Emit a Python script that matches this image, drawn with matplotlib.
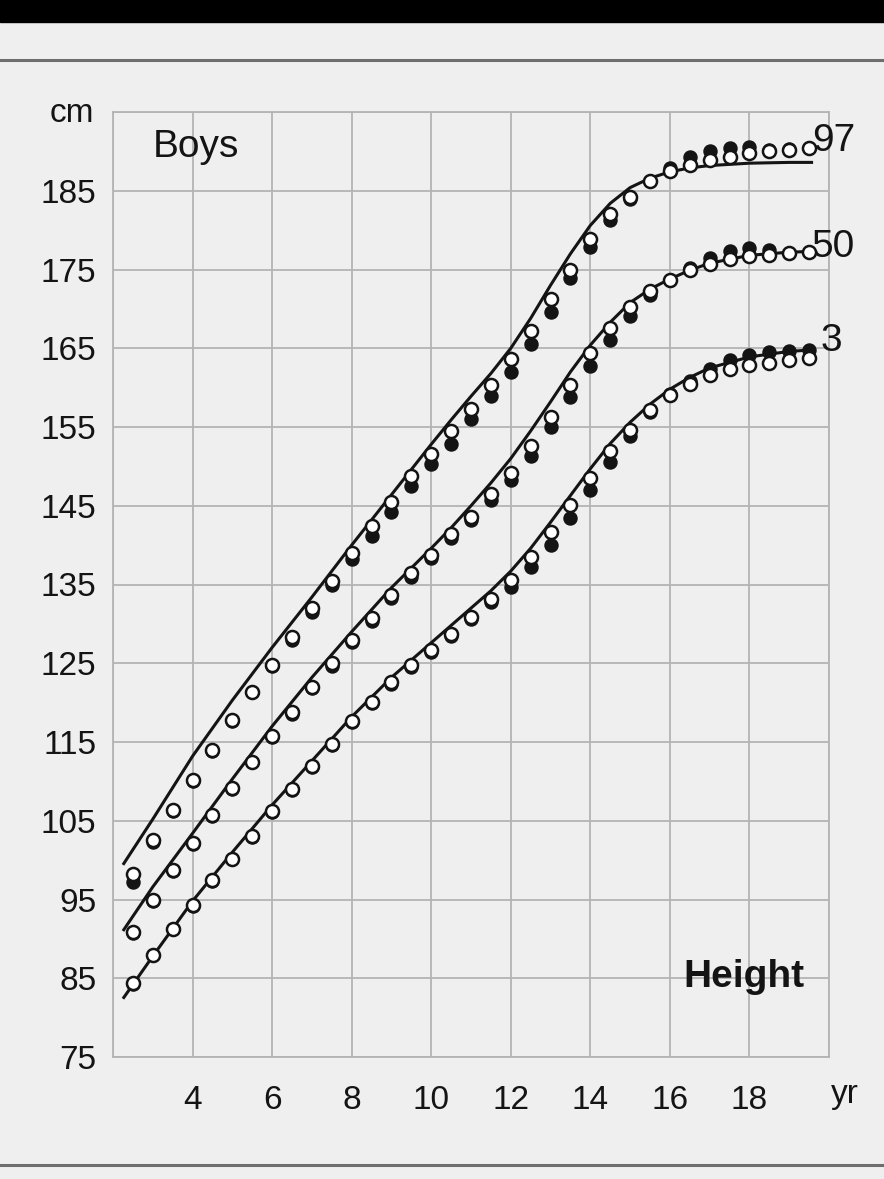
import matplotlib
matplotlib.use("Agg")
import matplotlib.pyplot as plt

plt.rcParams["font.family"] = ["Liberation Sans", "DejaVu Sans"]

# Smoothed reference percentiles (cm) against age (yr)
curve_age = [2.25, 3, 4, 5, 6, 7, 8, 9, 10, 10.5, 11, 11.5, 12, 12.5, 13, 13.5, 14,
             14.5, 15, 15.5, 16, 16.5, 17, 18, 19, 19.6]
p97_curve = [99.4, 105.2, 113.2, 120.3, 127.0, 133.4, 140.0, 146.4, 152.8, 155.9,
             158.9, 161.8, 165.0, 168.8, 173.0, 177.0, 180.6, 183.4, 185.4, 186.6,
             187.4, 187.9, 188.2, 188.5, 188.6, 188.6]
p50_curve = [91.0, 96.6, 103.4, 110.3, 117.0, 123.2, 129.0, 134.6, 139.6, 142.2,
             145.0, 147.9, 151.0, 154.5, 158.2, 162.0, 165.4, 168.3, 170.8, 172.5,
             173.8, 174.9, 175.8, 176.8, 177.2, 177.3]
p3_curve = [82.4, 87.8, 94.8, 101.0, 107.0, 112.6, 118.2, 123.2, 127.6, 129.8,
            132.0, 134.2, 136.7, 139.6, 142.9, 146.3, 149.7, 152.9, 155.6, 157.9,
            159.8, 161.3, 162.5, 163.9, 164.6, 164.8]

# Half-yearly survey values: newer survey (open) and older survey (filled)
survey_age = [2.5, 3.0, 3.5, 4.0, 4.5, 5.0, 5.5, 6.0, 6.5, 7.0, 7.5, 8.0, 8.5, 9.0,
              9.5, 10.0, 10.5, 11.0, 11.5, 12.0, 12.5, 13.0, 13.5, 14.0, 14.5, 15.0,
              15.5, 16.0, 16.5, 17.0, 17.5, 18.0, 18.5, 19.0, 19.5]
p97_new = [98.3, 102.6, 106.4, 110.2, 114.0, 117.8, 121.4, 124.8, 128.3, 132.0,
           135.5, 139.0, 142.4, 145.5, 148.8, 151.6, 154.5, 157.3, 160.3, 163.6,
           167.2, 171.2, 175.0, 178.9, 182.0, 184.2, 186.3, 187.5, 188.3, 188.9,
           189.3, 189.8, 190.0, 190.2, 190.4]
p97_old = [97.2, 102.3, 106.3, 110.1, 113.9, 117.7, 121.3, 124.6, 128.0, 131.5,
           134.9, 138.2, 141.2, 144.2, 147.5, 150.3, 152.9, 156.0, 158.9, 162.0,
           165.6, 169.6, 173.9, 177.9, 181.3, 184.0, 186.3, 187.9, 189.3, 190.0,
           190.4, 190.6, 190.2, 190.3, 190.4]
p50_new = [90.9, 94.9, 98.7, 102.2, 105.7, 109.1, 112.5, 115.7, 118.8, 122.0,
           125.0, 128.0, 130.8, 133.7, 136.4, 138.8, 141.4, 143.6, 146.5, 149.2,
           152.6, 156.3, 160.3, 164.4, 167.6, 170.3, 172.3, 173.7, 174.9, 175.7,
           176.3, 176.7, 176.9, 177.1, 177.2]
p50_old = [90.8, 94.8, 98.6, 102.1, 105.6, 109.0, 112.4, 115.6, 118.6, 121.8,
           124.7, 127.7, 130.4, 133.3, 136.0, 138.4, 140.9, 143.2, 145.7, 148.3,
           151.3, 155.0, 158.8, 162.7, 166.1, 169.1, 171.8, 173.7, 175.2, 176.5,
           177.3, 177.7, 177.5, 177.1, 177.2]
p3_new = [84.4, 88.0, 91.3, 94.3, 97.5, 100.2, 103.1, 106.2, 109.0, 111.9,
          114.8, 117.7, 120.1, 122.6, 124.8, 126.7, 128.7, 130.9, 133.2, 135.6,
          138.5, 141.7, 145.1, 148.5, 151.9, 154.6, 157.1, 159.1, 160.5, 161.6,
          162.4, 162.9, 163.1, 163.5, 163.7]
p3_old = [84.3, 87.9, 91.2, 94.2, 97.4, 100.1, 103.0, 106.1, 108.9, 111.8,
          114.6, 117.5, 119.9, 122.4, 124.5, 126.4, 128.4, 130.6, 132.8, 134.7,
          137.2, 140.0, 143.4, 147.0, 150.6, 153.9, 156.9, 159.2, 160.8, 162.4,
          163.5, 164.2, 164.5, 164.6, 164.8]

percentile_labels = ["97", "50", "3"]
x_ticks = [4, 6, 8, 10, 12, 14, 16, 18]
y_ticks = [75, 85, 95, 105, 115, 125, 135, 145, 155, 165, 175, 185]

BG = "#efefef"
INK = "#141414"
GRID = "#b4b4b4"
FS = 24
FS_TAG = 28

fig = plt.figure(figsize=(8.84, 11.79), dpi=100, facecolor=BG)
ax = fig.add_axes([113 / 884, 1 - 1057 / 1179, 716 / 884, 945 / 1179])
ax.set_facecolor(BG)

curves = [p97_curve, p50_curve, p3_curve]
old = [p97_old, p50_old, p3_old]
new = [p97_new, p50_new, p3_new]
for curve, o, n in zip(curves, old, new):
    ax.plot(curve_age, curve, color=INK, lw=2.2, zorder=3, solid_capstyle="butt")
    ax.plot(survey_age, o, "o", ms=9.4, color=INK, mec=INK, zorder=4)
    ax.plot(survey_age, n, "o", ms=9.4, mfc="white", mec=INK, mew=1.8, zorder=5)

ax.set_xlim(2, 20)
ax.set_ylim(75, 195)
ax.set_xticks(range(2, 21, 2))
ax.set_xticklabels([str(t) if t in x_ticks else "" for t in range(2, 21, 2)])
ax.set_yticks(range(75, 196, 10))
ax.set_yticklabels([str(t) if t in y_ticks else "" for t in range(75, 196, 10)])
ax.tick_params(length=0, labelsize=FS, colors=INK)
ax.tick_params(axis="y", pad=12)
ax.tick_params(axis="x", pad=20)
ax.grid(True, color=GRID, lw=1.3, zorder=0)
ax.set_axisbelow(True)
for sp in ax.spines.values():
    sp.set_color(GRID)
    sp.set_linewidth(1.3)

# percentile tags at the right-hand end of each curve
label_pos = [(19.57, 191.3), (19.57, 177.9), (19.8, 165.9)]
for lab, (x, y) in zip(percentile_labels, label_pos):
    ax.text(x, y, lab, fontsize=FS_TAG, color=INK, va="center", ha="left", clip_on=False)

ax.text(3.0, 190.6, "Boys", fontsize=FS_TAG, color=INK, va="center", ha="left")
ax.text(16.33, 85.2, "Height", fontsize=FS_TAG, fontweight="bold", color=INK,
        va="center", ha="left")
fig.text(72 / 884, 1 - 114 / 1179, "cm", fontsize=FS, color=INK, ha="center", va="center")
fig.text(845 / 884, 1 - 1095 / 1179, "yr", fontsize=FS, color=INK, ha="center", va="center")

# page furniture: dark band on top, rules above and below the chart
fig.add_artist(plt.Rectangle((0, 1 - 22 / 1179), 1, 22 / 1179, transform=fig.transFigure,
                             color="black", zorder=10))
for yy in (60, 1165):
    fig.add_artist(plt.Line2D([0, 1], [1 - yy / 1179] * 2, transform=fig.transFigure,
                              color="#6e6e6e", lw=2.2))

fig.savefig("out.png", dpi=100, facecolor=BG)
